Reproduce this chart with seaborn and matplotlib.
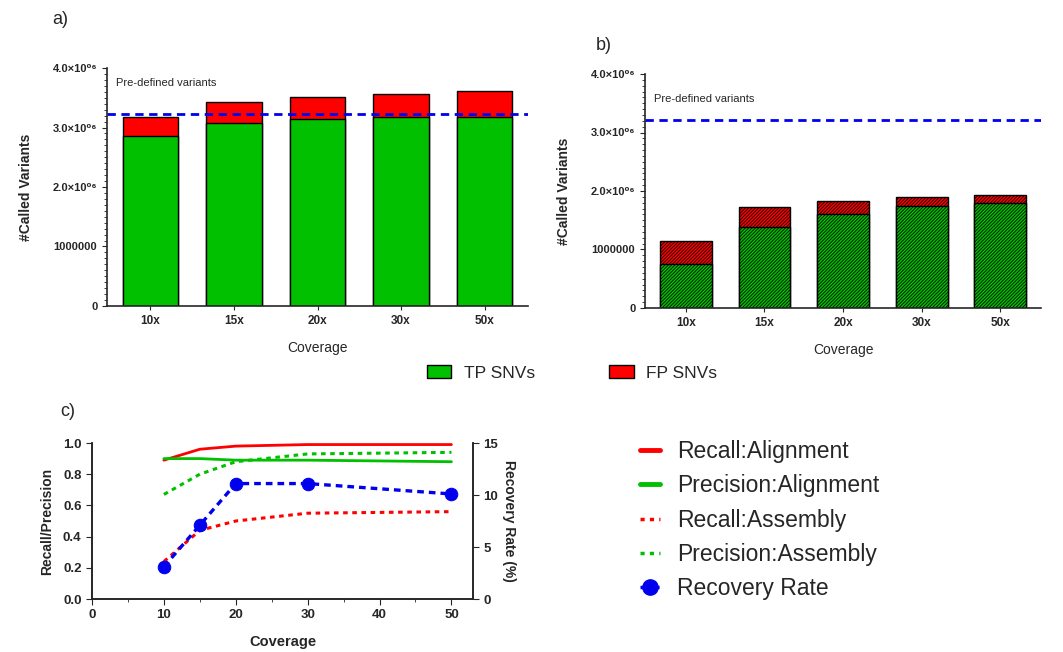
import pandas as pd
import seaborn as sns
import matplotlib.pyplot as plt
from matplotlib.lines import Line2D
from matplotlib.patches import Patch
from matplotlib.ticker import MultipleLocator

# bar data (a: alignment based, b: assembly based)
coverage = ['10x', '15x', '20x', '30x', '50x']
tp_align = [2.86e6, 3.08e6, 3.14e6, 3.18e6, 3.18e6]
fp_align = [0.32e6, 0.35e6, 0.38e6, 0.39e6, 0.44e6]
tp_asm = [0.76e6, 1.38e6, 1.61e6, 1.74e6, 1.79e6]
fp_asm = [0.38e6, 0.34e6, 0.22e6, 0.15e6, 0.14e6]
predefined = 3.22e6
bar_yticks = [0, 1e6, 2e6, 3e6, 4e6]
bar_ylabels = ['0', '1000000', '2.0×10⁰⁶', '3.0×10⁰⁶', '4.0×10⁰⁶']

# line data (c)
depth = [10, 15, 20, 30, 50]
recall_align = [0.89, 0.96, 0.98, 0.99, 0.99]
precision_align = [0.90, 0.90, 0.89, 0.89, 0.88]
recall_asm = [0.24, 0.44, 0.50, 0.55, 0.56]
precision_asm = [0.67, 0.80, 0.88, 0.93, 0.94]
recovery = [3.1, 7.1, 11.1, 11.1, 10.1]

GREEN = '#00c000'
RED = '#ff0000'
BLUE = '#0000ee'

sns.set_style('ticks')
plt.rcParams['font.family'] = ['Liberation Sans', 'DejaVu Sans']
plt.rcParams['hatch.linewidth'] = 0.6
plt.rcParams['axes.linewidth'] = 1.2

fig = plt.figure(figsize=(10.63, 6.52), dpi=100)
W, H = 1063, 652


def px_axes(l, t, r, b):
    return fig.add_axes([l / W, 1 - b / H, (r - l) / W, (b - t) / H])


def bar_panel(ax, tp, fp, hatch=None, text_y=0.93):
    total = [a + b for a, b in zip(tp, fp)]
    df = pd.DataFrame({'Coverage': coverage, 'total': total, 'tp': tp})
    sns.barplot(data=df, x='Coverage', y='total', color=RED, saturation=1, width=0.66,
                edgecolor='black', linewidth=1, hatch=hatch, errorbar=None, ax=ax)
    sns.barplot(data=df, x='Coverage', y='tp', color=GREEN, saturation=1, width=0.66,
                edgecolor='black', linewidth=1, hatch=hatch, errorbar=None, ax=ax)
    ax.axhline(predefined, color=BLUE, ls=(0, (3, 2)), lw=2)
    ax.text(0.022, text_y, 'Pre-defined variants', transform=ax.transAxes,
            fontsize=8, va='center')
    ax.set_xlim(-0.52, 4.52)
    ax.set_ylim(0, 4e6)
    ax.set_yticks(bar_yticks)
    ax.set_yticklabels(bar_ylabels, fontsize=8, fontweight='bold')
    ax.yaxis.set_minor_locator(MultipleLocator(1e5))
    ax.tick_params(axis='y', which='minor', length=2)
    ax.tick_params(axis='x', labelsize=8.5, length=3)
    for t in ax.get_xticklabels():
        t.set_fontweight('bold')
    ax.set_xlabel('Coverage', fontsize=10, labelpad=10)
    ax.set_ylabel('#Called Variants', fontsize=10, fontweight='bold', labelpad=14)
    sns.despine(ax=ax)


ax_a = px_axes(107, 68, 528, 306)
bar_panel(ax_a, tp_align, fp_align, text_y=0.935)

ax_b = px_axes(645, 74, 1041, 308)
bar_panel(ax_b, tp_asm, fp_asm, hatch='//////////', text_y=0.895)

fig.text(52 / W, 1 - 19 / H, 'a)', fontsize=13, va='center')
fig.text(596 / W, 1 - 45 / H, 'b)', fontsize=13, va='center')
fig.text(60 / W, 1 - 411 / H, 'c)', fontsize=13, va='center')

fig.legend(handles=[Patch(facecolor=GREEN, edgecolor='black', label='TP SNVs'),
                    Patch(facecolor=RED, edgecolor='black', label='FP SNVs')],
           loc='center', bbox_to_anchor=(572 / W, 1 - 373 / H), ncol=2, frameon=False,
           fontsize=12.5, handlelength=1.4, handleheight=0.7, columnspacing=4.3,
           handletextpad=0.7)

# panel c
ax_c = px_axes(92, 443, 473, 599)
lines = pd.DataFrame({'Coverage': depth, 'ra': recall_align, 'pa': precision_align,
                      'rs': recall_asm, 'ps': precision_asm, 'rec': recovery})
sns.lineplot(data=lines, x='Coverage', y='ra', color=RED, lw=2, ax=ax_c)
sns.lineplot(data=lines, x='Coverage', y='pa', color=GREEN, lw=2, ax=ax_c)
sns.lineplot(data=lines, x='Coverage', y='rs', color=RED, lw=2.2, ls=(0, (1.5, 1.5)), ax=ax_c)
sns.lineplot(data=lines, x='Coverage', y='ps', color=GREEN, lw=2.2, ls=(0, (1.5, 1.5)), ax=ax_c)
ax_c.set_xlim(0, 53)
ax_c.set_ylim(0, 1.0)
ax_c.set_xticks([0, 10, 20, 30, 40, 50])
ax_c.xaxis.set_minor_locator(MultipleLocator(5))
ax_c.set_yticks([0, 0.2, 0.4, 0.6, 0.8, 1.0])
ax_c.set_yticklabels(['0.0', '0.2', '0.4', '0.6', '0.8', '1.0'])
ax_c.tick_params(labelsize=9.5, length=4)
ax_c.tick_params(which='minor', length=2.5)
for t in ax_c.get_xticklabels() + ax_c.get_yticklabels():
    t.set_fontweight('bold')
ax_c.set_xlabel('Coverage', fontsize=10.5, fontweight='bold', labelpad=10)
ax_c.set_ylabel('Recall/Precision', fontsize=10, fontweight='bold', labelpad=6)
ax_c.spines['top'].set_visible(False)

ax_r = ax_c.twinx()
sns.lineplot(data=lines, x='Coverage', y='rec', color=BLUE, lw=2.4, ls=(0, (2, 1.5)),
             marker='o', markersize=9, markeredgecolor=BLUE, ax=ax_r)
ax_r.set_ylim(0, 15)
ax_r.set_yticks([0, 5, 10, 15])
ax_r.tick_params(labelsize=9.5, length=4)
for t in ax_r.get_yticklabels():
    t.set_fontweight('bold')
ax_r.set_ylabel('Recovery Rate (%)', fontsize=10, fontweight='bold', rotation=270, labelpad=13)
ax_r.spines['top'].set_visible(False)

handles = [Line2D([], [], color=RED, lw=3.5),
           Line2D([], [], color=GREEN, lw=3.5),
           Line2D([], [], color=RED, lw=2.5, ls=(0, (1.2, 1.5))),
           Line2D([], [], color=GREEN, lw=2.5, ls=(0, (1.2, 1.5))),
           Line2D([], [], color=BLUE, lw=2.5, ls=(0, (2, 1.5)), marker='o', markersize=11)]
labels = ['Recall:Alignment', 'Precision:Alignment', 'Recall:Assembly',
          'Precision:Assembly', 'Recovery Rate']
fig.legend(handles, labels, loc='upper left', bbox_to_anchor=(619 / W, 1 - 419 / H),
           frameon=False, fontsize=16.5, handlelength=0.9, labelspacing=0.5,
           handletextpad=0.75)

fig.savefig('out.png', dpi=100)
